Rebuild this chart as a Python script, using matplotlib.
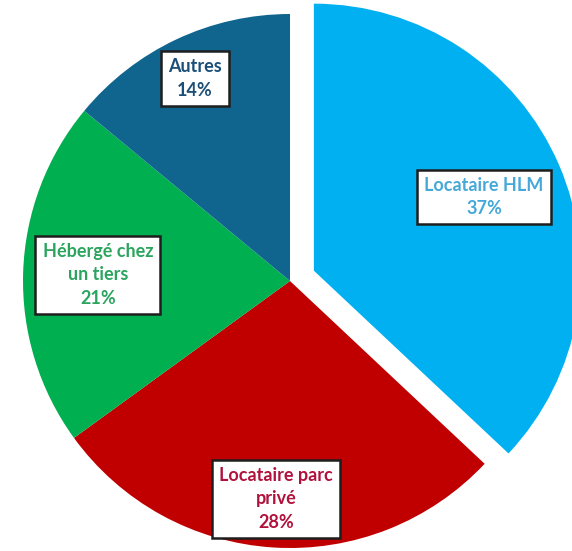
import numpy as np
import matplotlib
matplotlib.use("Agg")
import matplotlib.pyplot as plt

categories = ["Locataire HLM", "Locataire parc\nprivé", "Hébergé chez\nun tiers", "Autres"]
values = [37, 28, 21, 14]
colors = ["#00B0F0", "#C00000", "#00B050", "#10658F"]
text_colors = ["#45A8D8", "#B0123C", "#2BA45E", "#1B4F78"]
explode_px = [26, 0, 0, 0]
label_frac = [0.694, 0.817, 0.72, 0.838]

W, H = 572, 551
fig = plt.figure(figsize=(W / 100, H / 100), dpi=100)
ax = fig.add_axes([0, 0, 1, 1])

cx, cy, R = 290, H - 281, 267
wedges, _ = ax.pie(values, colors=colors, startangle=90, counterclock=False,
                   radius=R, center=(cx, cy), explode=explode_px,
                   wedgeprops=dict(linewidth=0), frame=True)
ax.set_xlim(0, W)
ax.set_ylim(0, H)
ax.set_aspect("equal")
ax.axis("off")

for w, lab, v, tc, f in zip(wedges, categories, values, text_colors, label_frac):
    mid = np.deg2rad((w.theta1 + w.theta2) / 2)
    wx, wy = w.center
    x = wx + f * R * np.cos(mid)
    y = wy + f * R * np.sin(mid)
    ax.text(x, y, f"{lab}\n{v}%", ha="center", va="center", color=tc,
            fontsize=13, fontweight="bold", family="Lato", linespacing=1.45,
            bbox=dict(boxstyle="square,pad=0.4", facecolor="white",
                      edgecolor="#1e1e1e", linewidth=1.8))

fig.savefig("out.png", dpi=100)
